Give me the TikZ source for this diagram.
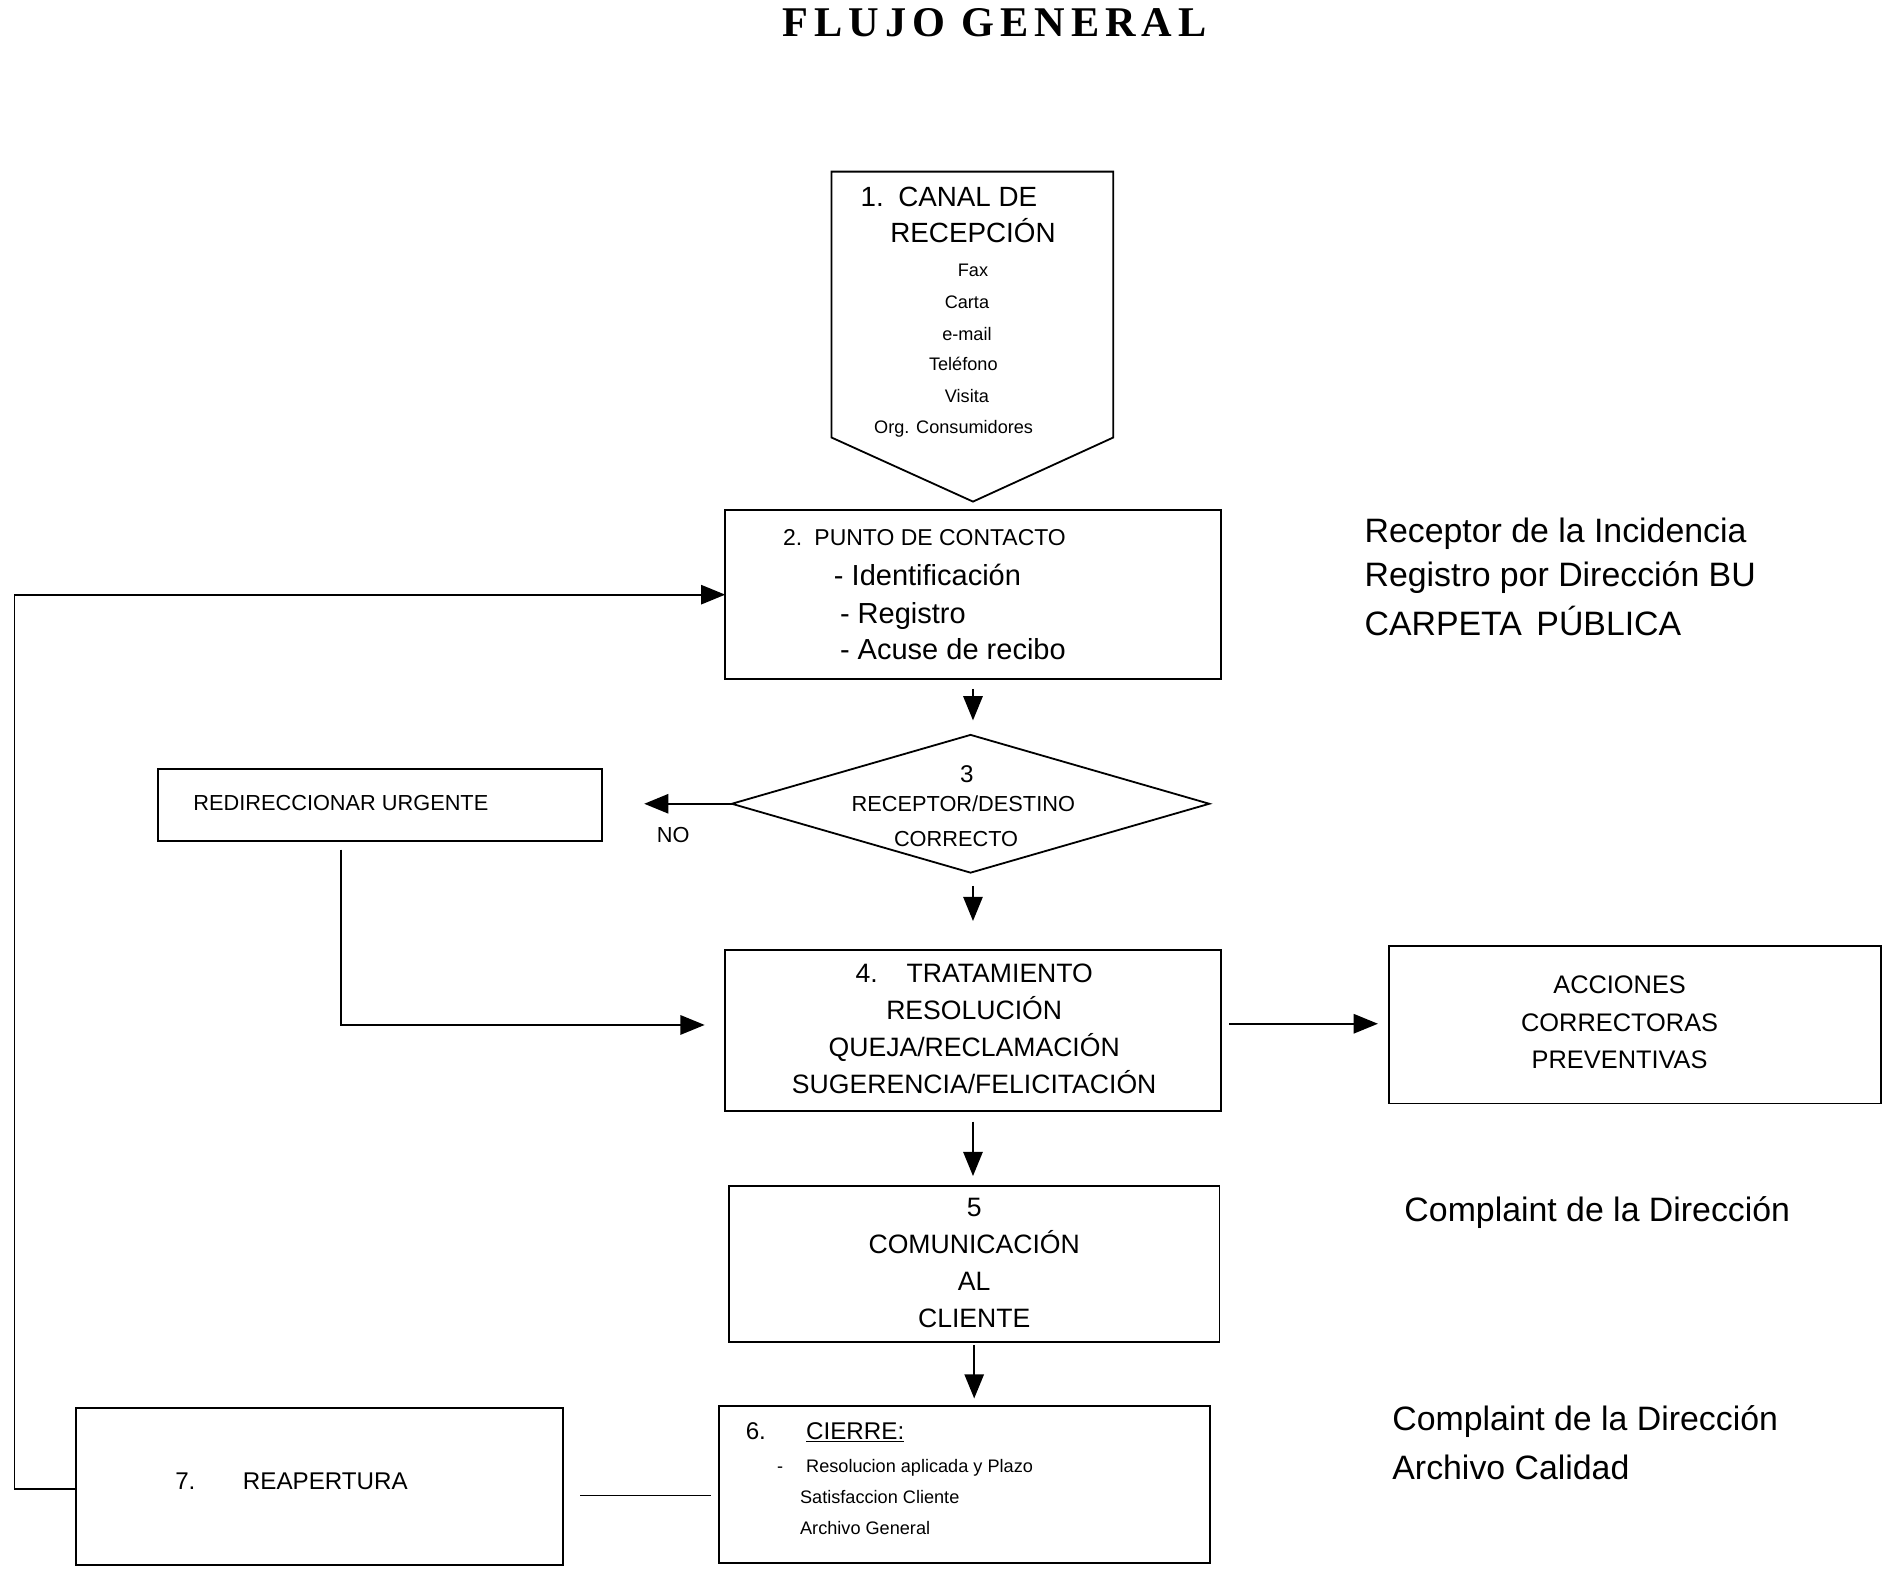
\documentclass[tikz,border=0pt]{standalone}
\usepackage{fontspec}
\setmainfont{Liberation Sans}
\newfontfamily\titlefont{Liberation Serif}
\usetikzlibrary{arrows.meta,shapes.geometric}
\tikzset{
  boxnode/.style={draw, line width=1.5pt, inner sep=0pt, outer sep=0pt},
  txt/.style={inner sep=0pt, outer sep=0pt, yshift=-3pt, font=\fontsize{#1}{#1}\selectfont},
  arr/.style={line width=1.5pt, -{Triangle[length=20pt,width=16pt]}},
  link/.style={line width=1.5pt},
}
\begin{document}
\begin{tikzpicture}[x=1pt,y=-1pt]
\useasboundingbox (0,0) rectangle (1567,1308);

% title
\node[inner sep=0pt, font=\fontsize{35}{35}\selectfont\titlefont\bfseries\addfontfeature{LetterSpace=14}, anchor=base] (title) at (823,30) {FLUJO GENERAL};

% box 1 (pentagon)
\coordinate (p1) at (688,142);
\coordinate (p2) at (921,142);
\coordinate (p3) at (921,362);
\coordinate (p4) at (805,415);
\coordinate (p5) at (688,362);
\draw[line width=1.5pt, line join=miter] (p1) -- (p2) -- (p3) -- (p4) -- (p5) -- cycle;
\node[txt=23, anchor=mid west] (t1a) at (712,165) {1.\hspace{12pt}CANAL DE};
\node[txt=23, anchor=mid] (t1b) at (805,195) {RECEPCIÓN};
\node[txt=15, anchor=mid] (t1c) at (805,223) {Fax};
\node[txt=15, anchor=mid] (t1d) at (800,250) {Carta};
\node[txt=15, anchor=mid] (t1e) at (800,276) {e-mail};
\node[txt=15, anchor=mid] (t1f) at (797,301) {Teléfono};
\node[txt=15, anchor=mid] (t1g) at (800,327) {Visita};
\node[txt=15, anchor=mid] (t1h) at (789,353) {Org. Consumidores};

% box 2
\node[boxnode, minimum width=410pt, minimum height=140pt] (b2) at (805,492) {};
\node[txt=19, anchor=mid west] (t2a) at (648,446) {2.\hspace{10pt}PUNTO DE CONTACTO};
\node[txt=24, anchor=mid west] (t2b) at (690,479) {- Identificación};
\node[txt=24, anchor=mid west] (t2c) at (695,510) {- Registro};
\node[txt=24, anchor=mid west] (t2d) at (695,540) {- Acuse de recibo};

% diamond 3
\node[draw, line width=1.5pt, shape=diamond, aspect=3.46, minimum width=395pt, minimum height=114pt, inner sep=0pt, outer sep=0pt] (d3) at (803,665) {};
\node[txt=20, anchor=mid] (t3a) at (800,642) {3};
\node[txt=18, anchor=mid] (t3b) at (797,666) {RECEPTOR/DESTINO};
\node[txt=18, anchor=mid] (t3c) at (791,695) {CORRECTO};

% redirect box
\node[boxnode, minimum width=367pt, minimum height=60pt] (red) at (314.5,666) {};
\node[txt=18, anchor=mid west] (tred) at (160,665) {REDIRECCIONAR URGENTE};
\node[txt=18, anchor=mid] (tno) at (557,691) {NO};

% box 4
\node[boxnode, minimum width=410pt, minimum height=133pt] (b4) at (805,852.5) {};
\node[inner sep=0pt, align=center, font=\fontsize{22}{30.7}\selectfont] (t4) at (806,851) {4.\hspace{24pt}TRATAMIENTO\\RESOLUCIÓN\\QUEJA/RECLAMACIÓN\\SUGERENCIA/FELICITACIÓN};

% acciones
\node[boxnode, minimum width=407pt, minimum height=130pt] (acc) at (1352.5,848) {};
\node[inner sep=0pt, align=center, font=\fontsize{21}{31}\selectfont] (tacc) at (1340,846) {ACCIONES\\CORRECTORAS\\PREVENTIVAS};

% box 5
\node[boxnode, minimum width=406pt, minimum height=129pt] (b5) at (806,1045.5) {};
\node[inner sep=0pt, align=center, font=\fontsize{22}{30.7}\selectfont] (t5) at (806,1045) {5\\COMUNICACIÓN\\AL\\CLIENTE};

% box 6
\node[boxnode, minimum width=406pt, minimum height=130pt] (b6) at (798,1228) {};
\node[txt=20, anchor=mid west] (t6a) at (617,1185) {6.};
\node[txt=20, anchor=mid west] (t6b) at (667,1185) {\underline{CIERRE:}};
\node[txt=15, anchor=mid west] (t6c) at (643,1213) {-};
\node[txt=15, anchor=mid west] (t6d) at (667,1213) {Resolucion aplicada y Plazo};
\node[txt=15, anchor=mid west] (t6e) at (662,1238) {Satisfaccion Cliente};
\node[txt=15, anchor=mid west] (t6f) at (662,1264) {Archivo General};

% box 7
\node[boxnode, minimum width=403pt, minimum height=130pt] (b7) at (264.5,1230) {};
\node[txt=20, anchor=mid west] (t7a) at (145,1227) {7.};
\node[txt=20, anchor=mid west] (t7b) at (201,1227) {REAPERTURA};

% right-side notes
\node[txt=28, anchor=mid west] (n1) at (1129,443) {Receptor de la Incidencia};
\node[txt=28, anchor=mid west] (n2) at (1129,480) {Registro por Dirección BU};
\node[txt=28, anchor=mid west] (n3) at (1129,520) {CARPETA\hspace{12pt}PÚBLICA};
\node[txt=28, anchor=mid west] (n4) at (1162,1005) {Complaint de la Dirección};
\node[txt=28, anchor=mid west] (n5) at (1152,1178) {Complaint de la Dirección};
\node[txt=28, anchor=mid west] (n6) at (1152,1218) {Archivo Calidad};

% connectors
\draw[arr, shorten <=8pt, shorten >=12pt] (b2.south) -- (b2.south |- d3.north);
\draw[arr, shorten <=11pt, shorten >=24pt] (d3.south -| b4.north) -- (b4.north);
\draw[arr, shorten <=9pt, shorten >=8pt] (b4.south) -- (b4.south |- b5.north);
\draw[arr, shorten <=3pt, shorten >=6pt] (b5.south) -- (b5.south |- b6.north);
\draw[arr, shorten <=7pt, shorten >=9pt] ([yshift=5.5pt]b4.east) -- ([yshift=5.5pt]b4.east -| acc.west);
\draw[arr, shorten >=35pt] (d3.west) -- (d3.west -| red.east);
\coordinate (rs) at ([xshift=-32.5pt,yshift=-7pt]red.south);
\draw[arr, shorten >=17pt] (rs) |- ([yshift=4.5pt]b4.west);
\draw[arr] ([yshift=-2pt]b7.west) -- ++(-51,0) |- (b2.west);
\draw[line width=1pt, shorten <=14pt, shorten >=7pt] ([yshift=-7pt]b7.east) -- ([yshift=-7pt]b7.east -| b6.west);
\end{tikzpicture}
\end{document}
